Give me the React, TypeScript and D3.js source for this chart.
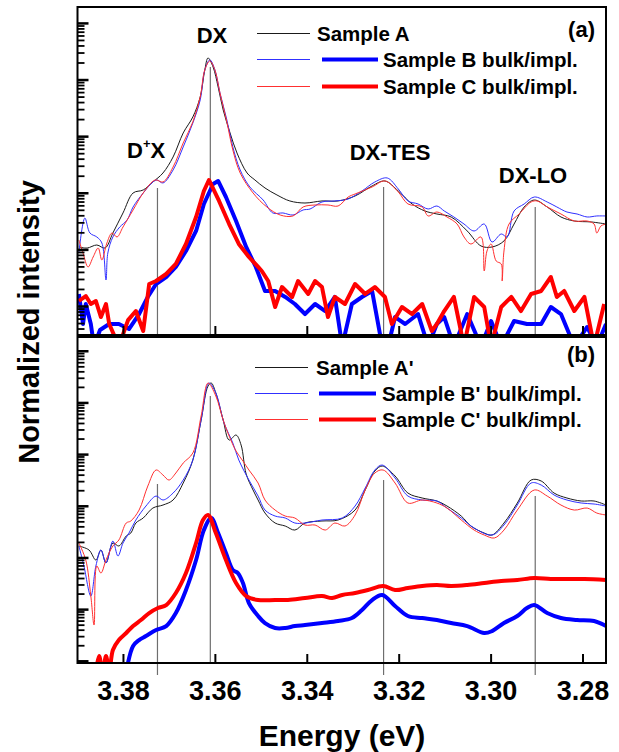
import React from "react";
import * as d3 from "d3";

// Each point: [photon energy (eV), log10 of normalized PL intensity]
type Pt = [number, number];

// ---------- Panel (a) ----------
const sampleA: Pt[] = [
  [3.3897, 1.051], [3.3879, 1.033], [3.3858, 1.086], [3.384, 1.033], [3.3823, 1.298], [3.3801, 1.652],
  [3.3779, 2.005], [3.3757, 2.058], [3.3736, 2.199], [3.3714, 2.358], [3.3692, 2.641], [3.367, 3.065],
  [3.3649, 3.348], [3.3633, 3.701], [3.3623, 4.178], [3.3616, 4.39], [3.3605, 4.231], [3.3594, 3.878],
  [3.3583, 3.472], [3.3568, 3.065], [3.3553, 2.712], [3.3531, 2.358], [3.3514, 2.235], [3.3492, 2.093],
  [3.3466, 1.97], [3.3438, 1.864], [3.3405, 1.828], [3.3368, 1.864], [3.3333, 1.864], [3.3296, 1.952],
  [3.3259, 2.129], [3.3231, 2.217], [3.3202, 2.04], [3.3172, 1.811], [3.3144, 1.687], [3.3118, 1.634],
  [3.3087, 1.581], [3.3052, 1.334], [3.3022, 1.069], [3.2998, 1.051], [3.2972, 1.157], [3.295, 1.457],
  [3.2928, 1.758], [3.2906, 1.881], [3.2878, 1.758], [3.2848, 1.581], [3.2819, 1.51], [3.2782, 1.493],
  [3.275, 1.457],
];

const sampleB: Pt[] = [
  [3.3897, 0.945], [3.3884, 1.563], [3.3873, 1.298], [3.3858, 1.228], [3.3847, 1.122], [3.3838, 0.468],
  [3.3834, 0.945], [3.3823, 1.228], [3.3808, 1.404], [3.3792, 1.528], [3.3779, 1.758], [3.3757, 2.005],
  [3.3736, 2.199], [3.3727, 2.235], [3.3714, 2.182], [3.3692, 2.411], [3.367, 2.818], [3.3649, 3.242],
  [3.3633, 3.648], [3.3623, 4.178], [3.3612, 4.355], [3.3601, 4.178], [3.359, 3.772], [3.3575, 3.295],
  [3.3562, 2.818], [3.3546, 2.411], [3.3525, 2.111], [3.3496, 1.881], [3.3475, 1.652], [3.3453, 1.652],
  [3.3431, 1.616], [3.3409, 1.705], [3.3394, 1.722], [3.3368, 1.846], [3.334, 1.864], [3.3311, 1.899],
  [3.3281, 2.04], [3.3253, 2.199], [3.3226, 2.27], [3.3202, 2.076], [3.3181, 1.864], [3.3159, 1.811],
  [3.3137, 1.722], [3.3118, 1.775], [3.3102, 1.687], [3.3081, 1.581], [3.3059, 1.457], [3.3037, 1.334],
  [3.3015, 1.457], [3.2998, 1.139], [3.2978, 1.281], [3.2965, 1.228], [3.295, 1.687], [3.2928, 1.811],
  [3.2906, 1.934], [3.2878, 1.846], [3.2857, 1.758], [3.2835, 1.669], [3.2813, 1.634], [3.2791, 1.581],
  [3.277, 1.599], [3.275, 1.599],
];

const sampleC: Pt[] = [
  [3.3897, 1.175], [3.3888, 0.945], [3.3877, 0.698], [3.3866, 0.874], [3.3855, 1.033], [3.3847, 0.821],
  [3.3836, 1.122], [3.3825, 1.298], [3.3814, 1.228], [3.3801, 1.404], [3.3779, 1.705], [3.3757, 2.005],
  [3.3731, 2.235], [3.3714, 2.199], [3.3692, 2.464], [3.367, 2.888], [3.3649, 3.26], [3.3633, 3.701],
  [3.3623, 4.178], [3.3612, 4.337], [3.3601, 4.178], [3.359, 3.772], [3.3575, 3.26], [3.3562, 2.765],
  [3.3546, 2.358], [3.3518, 2.005], [3.3488, 1.758], [3.3459, 1.616], [3.3431, 1.599], [3.3409, 1.758],
  [3.3383, 1.793], [3.3355, 1.793], [3.3333, 1.775], [3.3311, 1.934], [3.3296, 1.987], [3.3259, 2.111],
  [3.3231, 2.217], [3.3202, 2.023], [3.3181, 1.811], [3.315, 1.758], [3.3137, 1.599], [3.3118, 1.669],
  [3.3096, 1.581], [3.3074, 1.457], [3.3059, 1.228], [3.3044, 1.104], [3.3022, 1.228], [3.3015, 0.627],
  [3.3009, 0.98], [3.3, 1.104], [3.2989, 0.804], [3.2978, 0.751], [3.2976, 0.45], [3.2972, 0.98],
  [3.2961, 1.457], [3.2939, 1.634], [3.2913, 1.846], [3.29, 1.864], [3.2878, 1.758], [3.2848, 1.634],
  [3.2819, 1.51], [3.2791, 1.51], [3.2776, 1.457], [3.277, 1.298], [3.2761, 1.422], [3.275, 1.457],
];

const sampleBBulk: Pt[] = [
  [3.3897, 0.221], [3.3888, -0.309], [3.3882, 0.044], [3.3871, -0.309], [3.3864, -0.7], [3.3851, -0.415],
  [3.3831, -0.309], [3.381, -0.309], [3.3788, -0.398], [3.3766, -0.133], [3.3747, 0.168], [3.3729, 0.397],
  [3.3707, 0.521], [3.3686, 0.698], [3.3664, 0.98], [3.3642, 1.334], [3.3625, 1.811], [3.3605, 2.164],
  [3.3594, 2.217], [3.3577, 1.934], [3.3555, 1.51], [3.3533, 1.051], [3.3512, 0.698], [3.3492, 0.274],
  [3.347, 0.274], [3.3448, 0.168], [3.3427, 0.044], [3.3405, -0.133], [3.3383, 0.044], [3.3361, -0.08],
  [3.334, 0.168], [3.3324, -0.7], [3.3303, 0.044], [3.3281, 0.168], [3.3259, 0.274], [3.3237, -0.7],
  [3.3224, -0.7], [3.3209, -0.186], [3.3187, -0.309], [3.3159, -0.133], [3.3137, -0.7], [3.3118, -0.309],
  [3.3102, -0.186], [3.3081, -0.7], [3.3052, -0.133], [3.3022, -0.7], [3.3, -0.256], [3.2978, -0.7],
  [3.295, -0.256], [3.2922, -0.309], [3.2891, -0.309], [3.287, -0.009], [3.2848, -0.133], [3.2819, -0.7],
  [3.2791, -0.362], [3.277, -0.7], [3.275, -0.309],
];

const sampleCBulk: Pt[] = [
  [3.3897, 0.097], [3.3882, 0.185], [3.3871, 0.044], [3.386, 0.097], [3.3849, -0.186], [3.3838, 0.044],
  [3.3831, -0.309], [3.381, -0.7], [3.379, -0.24], [3.3773, -0.08], [3.3757, -0.433], [3.3744, 0.397],
  [3.3729, 0.45], [3.3707, 0.574], [3.3686, 0.751], [3.3664, 1.104], [3.3642, 1.581], [3.3625, 2.04],
  [3.3614, 2.235], [3.3592, 1.864], [3.357, 1.457], [3.3549, 1.104], [3.3527, 0.874], [3.3507, 0.698],
  [3.3499, 0.627], [3.3485, 0.45], [3.347, -0.009], [3.3455, 0.344], [3.3433, 0.168], [3.342, 0.45],
  [3.3398, 0.221], [3.3383, 0.45], [3.3368, 0.344], [3.3355, -0.186], [3.334, 0.168], [3.3318, 0.044],
  [3.3296, 0.397], [3.3274, 0.221], [3.3253, 0.344], [3.3231, 0.168], [3.3216, -0.309], [3.3194, -0.009],
  [3.3172, -0.133], [3.315, 0.044], [3.3129, -0.433], [3.3118, -0.309], [3.3102, -0.08], [3.3081, 0.168],
  [3.3059, -0.7], [3.3037, 0.168], [3.3015, -0.009], [3.3, -0.7], [3.2978, -0.009], [3.2956, 0.168],
  [3.2935, -0.08], [3.2913, 0.221], [3.2891, 0.274], [3.287, 0.521], [3.2857, 0.168], [3.2841, 0.274],
  [3.2819, -0.08], [3.2797, 0.168], [3.2776, -0.7], [3.2754, 0.044],
];

// ---------- Panel (b) ----------
const sampleA2: Pt[] = [
  [3.3897, 2.231], [3.3875, 2.154], [3.386, 1.96], [3.3849, 2.154], [3.3838, 1.902], [3.3823, 2.289],
  [3.381, 2.231], [3.3794, 2.424], [3.3784, 2.482], [3.3773, 2.676], [3.3757, 2.773], [3.3736, 2.966],
  [3.3714, 3.024], [3.3692, 3.121], [3.367, 3.45], [3.3649, 3.895], [3.3631, 4.669], [3.3616, 5.327],
  [3.3609, 5.385], [3.3599, 5.192], [3.3583, 4.669], [3.357, 4.282], [3.3555, 4.379], [3.3544, 4.185],
  [3.3533, 3.624], [3.3518, 3.315], [3.3507, 3.121], [3.3492, 2.869], [3.347, 2.676], [3.3448, 2.618],
  [3.3427, 2.54], [3.3405, 2.676], [3.3368, 2.715], [3.3333, 2.734], [3.3296, 2.927], [3.3274, 3.315],
  [3.3253, 3.682], [3.3237, 3.779], [3.3209, 3.586], [3.3181, 3.256], [3.315, 3.16], [3.3118, 3.102],
  [3.3096, 3.005], [3.3065, 2.811], [3.3044, 2.618], [3.3015, 2.482], [3.2998, 2.444], [3.2972, 2.676],
  [3.2943, 3.063], [3.2913, 3.508], [3.2891, 3.489], [3.2863, 3.256], [3.2835, 3.16], [3.2804, 3.102],
  [3.2776, 3.102], [3.275, 3.024],
];

const sampleB2: Pt[] = [
  [3.3897, 2.231], [3.3886, 1.844], [3.3871, 1.263], [3.386, 1.844], [3.3849, 2.154], [3.3838, 1.902],
  [3.3823, 2.328], [3.3812, 2.037], [3.3801, 2.289], [3.3788, 2.482], [3.3773, 2.734], [3.3751, 3.005],
  [3.3729, 3.198], [3.3714, 3.121], [3.3692, 3.256], [3.367, 3.508], [3.3649, 3.895], [3.3631, 4.669],
  [3.3614, 5.385], [3.3599, 5.192], [3.3581, 4.611], [3.3562, 4.224], [3.3549, 3.895], [3.3527, 3.508],
  [3.3507, 3.198], [3.3492, 2.927], [3.347, 2.811], [3.3448, 2.773], [3.3427, 2.676], [3.3405, 2.676],
  [3.3368, 2.734], [3.3324, 2.773], [3.3296, 3.005], [3.3274, 3.353], [3.3253, 3.702], [3.3237, 3.798],
  [3.3209, 3.547], [3.3181, 3.198], [3.315, 3.121], [3.3118, 3.102], [3.3096, 2.966], [3.3065, 2.773],
  [3.3037, 2.579], [3.2998, 2.444], [3.2972, 2.637], [3.2943, 3.024], [3.2913, 3.45], [3.2891, 3.411],
  [3.2863, 3.218], [3.2835, 3.121], [3.2804, 3.063], [3.2776, 3.044], [3.275, 3.005],
];

const sampleC2: Pt[] = [
  [3.3897, 2.289], [3.3882, 1.96], [3.3871, 1.263], [3.3864, 0.702], [3.3858, 1.844], [3.3849, 1.708],
  [3.3838, 1.96], [3.3823, 2.231], [3.381, 2.347], [3.3794, 2.676], [3.3784, 2.715], [3.3766, 2.927],
  [3.3747, 3.392], [3.3729, 3.702], [3.3714, 3.605], [3.3701, 3.508], [3.3686, 3.644], [3.367, 3.837],
  [3.3649, 4.031], [3.3631, 4.747], [3.3616, 5.385], [3.3599, 5.134], [3.3583, 4.669], [3.357, 4.36],
  [3.3555, 4.069], [3.354, 3.876], [3.3527, 3.702], [3.3507, 3.45], [3.3492, 3.121], [3.347, 2.927],
  [3.3448, 2.811], [3.3427, 2.773], [3.3405, 2.637], [3.3383, 2.637], [3.3361, 2.54], [3.334, 2.676],
  [3.3318, 2.618], [3.3296, 2.831], [3.3274, 3.315], [3.3253, 3.644], [3.3235, 3.702], [3.3209, 3.45],
  [3.3181, 3.063], [3.315, 3.121], [3.3118, 3.063], [3.3096, 2.966], [3.3065, 2.734], [3.3037, 2.54],
  [3.3015, 2.444], [3.2993, 2.386], [3.2972, 2.54], [3.2943, 2.927], [3.2906, 3.315], [3.2878, 3.198],
  [3.2848, 3.024], [3.2819, 2.927], [3.2791, 2.966], [3.277, 2.869], [3.275, 2.831],
];

const sampleB2Bulk: Pt[] = [
  [3.3794, -0.2], [3.3779, 0.295], [3.3766, 0.411], [3.3751, 0.489], [3.3729, 0.605], [3.3707, 0.682],
  [3.3686, 0.934], [3.3664, 1.379], [3.3642, 1.96], [3.3625, 2.54], [3.3609, 2.773], [3.3594, 2.482],
  [3.3577, 2.096], [3.3562, 1.766], [3.3551, 1.708], [3.354, 1.515], [3.3527, 1.128], [3.3507, 0.876],
  [3.3492, 0.74], [3.347, 0.644], [3.3448, 0.644], [3.3427, 0.682], [3.3405, 0.702], [3.3368, 0.74],
  [3.3333, 0.779], [3.3303, 0.837], [3.3281, 0.992], [3.3259, 1.186], [3.3237, 1.283], [3.3209, 1.07],
  [3.3181, 0.876], [3.315, 0.837], [3.3118, 0.799], [3.3087, 0.74], [3.3052, 0.682], [3.3015, 0.547],
  [3.2998, 0.585], [3.2972, 0.74], [3.2943, 0.876], [3.2922, 1.031], [3.2906, 1.089], [3.2878, 0.934],
  [3.2848, 0.837], [3.2813, 0.799], [3.2776, 0.779], [3.275, 0.682],
];

const sampleC2Bulk: Pt[] = [
  [3.386, -0.2], [3.3853, 0.102], [3.3845, -0.2], [3.3838, 0.102], [3.3831, -0.2], [3.3823, 0.218],
  [3.381, 0.411], [3.3794, 0.547], [3.3779, 0.682], [3.3762, 0.799], [3.3744, 0.934], [3.3725, 1.031],
  [3.3707, 1.089], [3.3686, 1.322], [3.3664, 1.708], [3.3642, 2.289], [3.3627, 2.734], [3.3616, 2.831],
  [3.3599, 2.482], [3.3577, 1.96], [3.3555, 1.515], [3.3533, 1.263], [3.3507, 1.186], [3.347, 1.186],
  [3.3442, 1.186], [3.3405, 1.225], [3.3368, 1.263], [3.3346, 1.225], [3.3324, 1.283], [3.3296, 1.322],
  [3.3268, 1.379], [3.3235, 1.457], [3.3209, 1.379], [3.3181, 1.418], [3.315, 1.457], [3.3118, 1.476],
  [3.3087, 1.457], [3.3052, 1.476], [3.3015, 1.515], [3.2978, 1.554], [3.2943, 1.573], [3.2906, 1.611],
  [3.287, 1.592], [3.2835, 1.592], [3.2797, 1.592], [3.275, 1.573],
];

// Exciton line positions (eV) and the log10 height where each marker line starts
const markerEnergies = [3.3726, 3.3611, 3.3234, 3.2904];
const markerTopA = [2.093, 4.231, 2.111, 1.758];
const markerTopB = [3.431, 5.134, 3.508, 3.198];

const peakLabelsA = ["D+X", "DX", "DX-TES", "DX-LO"];

const xTickValues = [3.38, 3.36, 3.34, 3.32, 3.3, 3.28];
const xTickLabels = ["3.38", "3.36", "3.34", "3.32", "3.30", "3.28"];

const legendA = ["Sample A", "Sample B bulk/impl.", "Sample C bulk/impl."];
const legendB = ["Sample A'", "Sample B' bulk/impl.", "Sample C' bulk/impl."];

const FONT = "'Liberation Sans', Arial, Helvetica, sans-serif";
const BLACK = "#1a1a1a";
const BLUE_THIN = "#3030ff";
const RED_THIN = "#ff3030";
const BLUE = "#0000ff";
const RED = "#ff0000";
const MARKER = "#6e6e6e";

const W = 619;
const H = 752;
const LEFT = 77.5;
const RIGHT = 606;

const x = d3.scaleLinear().domain([3.39, 3.275]).range([LEFT, RIGHT]);

interface PanelProps {
  id: string;
  top: number;
  bottom: number;
  logMin: number;
  logMax: number;
  thin: Pt[][];
  thick: Pt[][];
  markerTop: number[];
  markerExtend: number[];
  legend: string[];
  legendY: number[];
  legendTextX: number[];
  thinX: [number, number];
  thickX: [number, number];
  tag: string;
  tagY: number;
  showPeakLabels: boolean;
}

function Panel(p: PanelProps) {
  const y = d3
    .scaleLog()
    .domain([Math.pow(10, p.logMin), Math.pow(10, p.logMax)])
    .range([p.bottom, p.top]);

  const lineThin = d3
    .line<Pt>()
    .x((d) => x(d[0]))
    .y((d) => y(Math.pow(10, d[1])))
    .curve(d3.curveCatmullRom.alpha(0.5));
  const lineThick = d3
    .line<Pt>()
    .x((d) => x(d[0]))
    .y((d) => y(Math.pow(10, d[1])))
    .curve(p.id === "a" ? d3.curveLinear : d3.curveCatmullRom.alpha(0.5));

  const thinColors = [BLACK, BLUE_THIN, RED_THIN];
  const thickColors = [BLUE, RED];

  // log-axis ticks: decades are major, 2..9 multiples are minor
  const ticks: { v: number; major: boolean }[] = [];
  for (let k = Math.floor(p.logMin); k <= Math.ceil(p.logMax); k++) {
    for (let m = 1; m <= 9; m++) {
      const v = m * Math.pow(10, k);
      const lv = Math.log10(v);
      if (lv >= p.logMin && lv <= p.logMax) ticks.push({ v, major: m === 1 });
    }
  }

  const clipId = `clip-${p.id}`;

  return (
    <g>
      <defs>
        <clipPath id={clipId}>
          <rect x={LEFT} y={p.top} width={RIGHT - LEFT} height={p.bottom - p.top} />
        </clipPath>
      </defs>

      {/* marker lines at the exciton energies */}
      {markerEnergies.map((e, i) => (
        <line
          key={`m${i}`}
          x1={x(e)}
          x2={x(e)}
          y1={y(Math.pow(10, p.markerTop[i]))}
          y2={p.bottom + p.markerExtend[i]}
          stroke={MARKER}
          strokeWidth={1.2}
        />
      ))}

      <g clipPath={`url(#${clipId})`}>
        {p.thin.map((s, i) => (
          <path key={`t${i}`} d={lineThin(s) || ""} fill="none" stroke={thinColors[i]} strokeWidth={1} />
        ))}
        {p.thick.map((s, i) => (
          <path
            key={`k${i}`}
            d={lineThick(s) || ""}
            fill="none"
            stroke={thickColors[i]}
            strokeWidth={4}
            strokeLinejoin="round"
          />
        ))}
      </g>

      {/* frame */}
      <rect
        x={LEFT}
        y={p.top}
        width={RIGHT - LEFT}
        height={p.bottom - p.top}
        fill="none"
        stroke="#000"
        strokeWidth={2}
      />

      {/* y ticks (inward) */}
      {ticks.map((t, i) => (
        <line
          key={`y${i}`}
          x1={LEFT}
          x2={LEFT + (t.major ? 11 : 7)}
          y1={y(t.v)}
          y2={y(t.v)}
          stroke="#000"
          strokeWidth={t.major ? 2.5 : 1.8}
        />
      ))}

      {/* x ticks (inward) */}
      {xTickValues.map((v, i) => (
        <line key={`x${i}`} x1={x(v)} x2={x(v)} y1={p.bottom} y2={p.bottom - 9} stroke="#000" strokeWidth={2} />
      ))}

      {/* legend */}
      <g fontFamily={FONT} fontWeight="bold" fontSize={20.5} fill="#000">
        {p.legend.map((label, i) => (
          <g key={`l${i}`}>
            <line
              x1={p.thinX[0]}
              x2={p.thinX[1]}
              y1={p.legendY[i]}
              y2={p.legendY[i]}
              stroke={thinColors[i]}
              strokeWidth={1.1}
            />
            {i > 0 && (
              <line
                x1={p.thickX[0]}
                x2={p.thickX[1]}
                y1={p.legendY[i]}
                y2={p.legendY[i]}
                stroke={thickColors[i - 1]}
                strokeWidth={4}
              />
            )}
            <text x={p.legendTextX[i]} y={p.legendY[i] + 7}>
              {label}
            </text>
          </g>
        ))}
      </g>

      <text x={595} y={p.tagY} textAnchor="end" fontFamily={FONT} fontWeight="bold" fontSize={22}>
        {p.tag}
      </text>

      {p.showPeakLabels && (
        <g fontFamily={FONT} fontWeight="bold" fontSize={22} fill="#000">
          <text x={127} y={158}>
            D<tspan fontSize={13} dy={-10}>+</tspan>
            <tspan dy={10}>X</tspan>
          </text>
          <text x={212} y={43} textAnchor="middle">
            {peakLabelsA[1]}
          </text>
          <text x={390} y={160} textAnchor="middle">
            {peakLabelsA[2]}
          </text>
          <text x={533} y={183} textAnchor="middle">
            {peakLabelsA[3]}
          </text>
        </g>
      )}
    </g>
  );
}

export default function App() {
  return (
    <svg
      width={W}
      height={H}
      viewBox={`0 0 ${W} ${H}`}
      style={{ position: "absolute", left: 0, top: 0, background: "#fff" }}
    >
      <rect x={0} y={0} width={W} height={H} fill="#fff" />
      <Panel
        id="a"
        top={7}
        bottom={335}
        logMin={-0.5035}
        logMax={5.29}
        thin={[sampleA, sampleB, sampleC]}
        thick={[sampleBBulk, sampleCBulk]}
        markerTop={markerTopA}
        markerExtend={[0, 0, 0, 0]}
        legend={legendA}
        legendY={[33.5, 59.5, 86.5]}
        legendTextX={[317, 383, 383]}
        thinX={[257, 310]}
        thickX={[322, 378]}
        tag="(a)"
        tagY={37}
        showPeakLabels={true}
      />
      <Panel
        id="b"
        top={337}
        bottom={663}
        logMin={-0.033}
        logMax={6.276}
        thin={[sampleA2, sampleB2, sampleC2]}
        thick={[sampleB2Bulk, sampleC2Bulk]}
        markerTop={markerTopB}
        markerExtend={[12, 0, 12, 12]}
        legend={legendB}
        legendY={[367.5, 393.5, 419.5]}
        legendTextX={[316, 382, 382]}
        thinX={[255, 308]}
        thickX={[319, 376]}
        tag="(b)"
        tagY={362}
        showPeakLabels={false}
      />

      {/* x tick labels */}
      <g fontFamily={FONT} fontWeight="bold" fontSize={27} textAnchor="middle">
        {xTickValues.map((v, i) => (
          <text key={i} x={x(v)} y={700}>
            {xTickLabels[i]}
          </text>
        ))}
      </g>

      <text x={342} y={746} textAnchor="middle" fontFamily={FONT} fontWeight="bold" fontSize={30}>
        Energy (eV)
      </text>
      <text
        transform="translate(39,322) rotate(-90)"
        textAnchor="middle"
        fontFamily={FONT}
        fontWeight="bold"
        fontSize={29}
      >
        Normalized intensity
      </text>
    </svg>
  );
}
